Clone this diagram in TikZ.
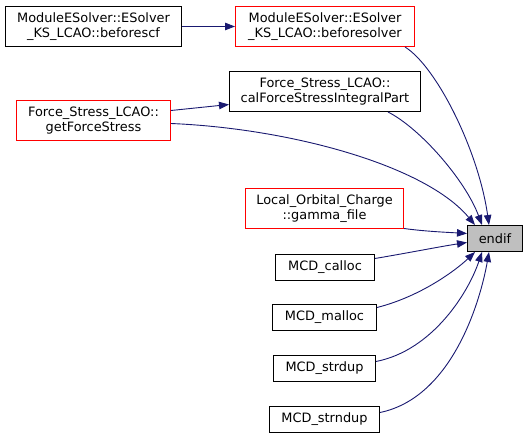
\documentclass[tikz,border=0pt]{standalone}
\usepackage{fontspec}
\setmainfont{DejaVu Sans}
\usetikzlibrary{arrows.meta,calc}
\definecolor{edgeblue}{HTML}{191970}
\definecolor{nodered}{HTML}{FF0000}
\definecolor{nodegray}{HTML}{BFBFBF}
\begin{document}
\begin{tikzpicture}[x=1pt,y=-1pt,
  box/.style={draw=black, fill=white, line width=1pt, inner sep=0pt, align=center,
    font=\fontsize{12.9}{15}\selectfont},
  redbox/.style={box, draw=nodered},
  graybox/.style={box, fill=nodegray},
  edge/.style={draw=edgeblue, line width=0.9pt, -{Triangle[length=10pt,width=7.5pt]}}
]
\useasboundingbox (-0.5,-0.5) rectangle (527.5,437.5);

\node[box, minimum width=176pt, minimum height=40pt] (A) at (93,26) {ModuleESolver::ESolver\\\_KS\_LCAO::beforescf};
\node[redbox, minimum width=179pt, minimum height=40pt] (B) at (324.5,26) {ModuleESolver::ESolver\\\_KS\_LCAO::beforesolver};
\node[box, minimum width=191pt, minimum height=40pt] (C) at (324.5,91) {Force\_Stress\_LCAO::\\calForceStressIntegralPart};
\node[redbox, minimum width=154pt, minimum height=40pt] (D) at (93,120) {Force\_Stress\_LCAO::\\getForceStress};
\node[redbox, minimum width=158pt, minimum height=40pt] (E) at (324,208) {Local\_Orbital\_Charge\\::gamma\_file};
\node[graybox, minimum width=55pt, minimum height=26pt] (F) at (494.5,238) {endif};
\node[box, minimum width=99pt, minimum height=26pt] (G) at (324.5,267) {MCD\_calloc};
\node[box, minimum width=104pt, minimum height=26pt] (H) at (324,317) {MCD\_malloc};
\node[box, minimum width=102pt, minimum height=26pt] (I) at (324,368) {MCD\_strdup};
\node[box, minimum width=110pt, minimum height=26pt] (J) at (324,419) {MCD\_strndup};

% A -> B
\draw[edge] (A.east) -- (B.west);
% D -> C
\draw[edge] ([yshift=10pt]D.east) -- ([yshift=-13pt]C.west);
% B -> F
\draw[edge] ([xshift=-10pt]B.south east) .. controls (436,66) and (478,150) .. ([xshift=-6pt]F.north);
% C -> F
\draw[edge] ([xshift=-33pt]C.south east) .. controls (420,128) and (465,180) .. ([xshift=-13pt]F.north);
% D -> F
\draw[edge] ([yshift=-3pt]D.east) .. controls (290,128) and (425,165) .. ([xshift=-20pt]F.north);
% E -> F
\draw[edge] ([yshift=-20pt]E.east) .. controls (425,231) and (450,232) .. ([yshift=5pt]F.west);
% G -> F
\draw[edge] ([yshift=9pt]G.east) .. controls (410,252) and (440,246) .. ([yshift=-4pt]F.west);
% H -> F
\draw[edge] ([yshift=10pt]H.east) .. controls (420,296) and (455,270) .. ([xshift=-20pt]F.south);
% I -> F
\draw[edge] ([yshift=7pt]I.east) .. controls (432,350) and (468,292) .. ([xshift=-13pt]F.south);
% J -> F
\draw[edge] ([yshift=7pt]J.east) .. controls (452,397) and (480,300) .. ([xshift=-6pt]F.south);
\end{tikzpicture}
\end{document}
